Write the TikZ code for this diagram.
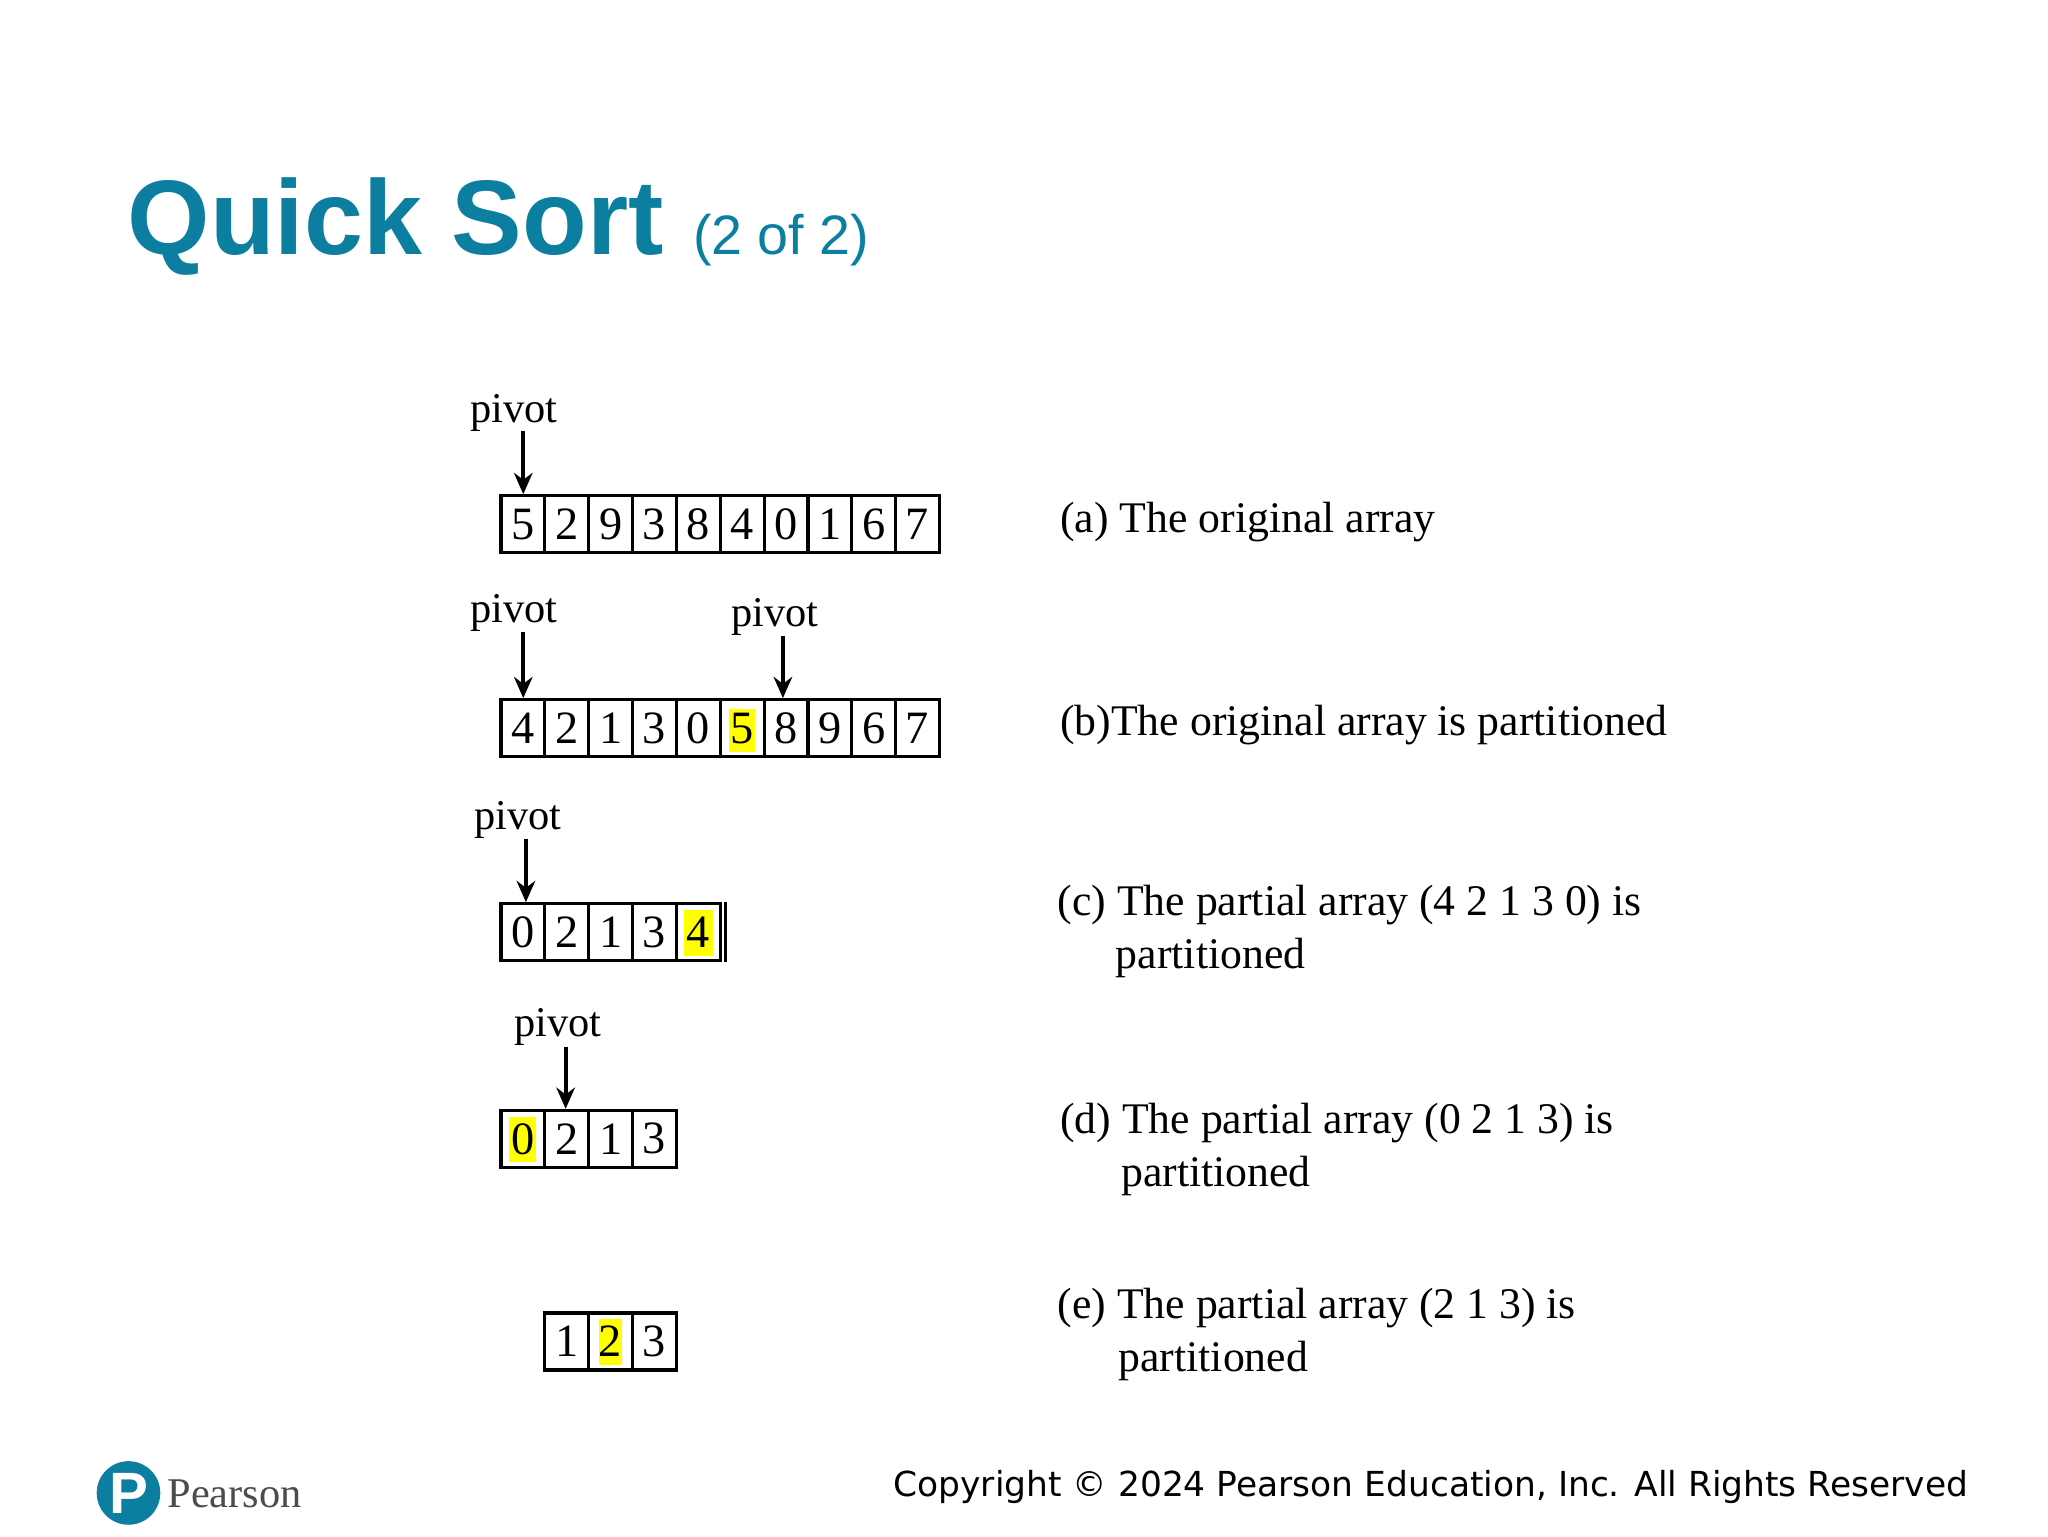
\documentclass[tikz,border=0pt]{standalone}
\usepackage{fontspec}
\usetikzlibrary{calc,backgrounds,arrows.meta}
\setmainfont{Liberation Serif}
\newfontfamily\titlefont{Liberation Sans}
\newfontfamily\copyfont{DejaVu Sans}
\definecolor{teal1}{RGB}{12,127,160}
\definecolor{hl}{RGB}{255,255,0}
\begin{document}
\begin{tikzpicture}[x=0.5pt,y=-0.5pt,
  cell/.style={draw,line width=1.2pt,minimum width=16.55pt,minimum height=21.5pt,inner sep=0pt,anchor=north west,font=\fontsize{17.5}{17.5}\selectfont},
  lbl/.style={font=\fontsize{16}{16}\selectfont,inner sep=0pt},
  captxt/.style={font=\fontsize{16.5}{20}\selectfont,inner sep=0pt,anchor=west,align=left},
  arr/.style={-{Stealth[length=8pt,width=7pt]},line width=1.4pt}]
\useasboundingbox (0,0) rectangle (1546,1160);
\begin{scope}[on background layer]
\fill[white] (0,0) rectangle (1546,1160);
\end{scope}
\node[anchor=base west,inner sep=0pt,text=teal1] (title) at (96,192) {\titlefont\fontsize{40}{40}\selectfont\bfseries Quick Sort \fontsize{21}{21}\selectfont\mdseries(2 of 2)};
\newcommand\myrow[4]{%
  \foreach \v [count=\i] in {#4} {
    \node[cell] (#1\i) at ({#2+(\i-1)*33.1},#3) {\v};
  }}
\myrow{a}{377}{373}{5,2,9,3,8,4,0,1,6,7}
\myrow{b}{377}{527}{4,2,1,3,0,5,8,9,6,7}
\myrow{c}{377}{681}{0,2,1,3,4}
\myrow{d}{377}{837}{0,2,1,3}
\myrow{e}{410}{990}{1,2,3}
\begin{scope}[on background layer]
\fill[hl] ($(b6.north west)+(8,8)$) rectangle ($(b6.south east)+(-8,-5)$);
\fill[hl] ($(c5.north west)+(7,6)$) rectangle ($(c5.south east)+(-7,-5)$);
\fill[hl] ($(d1.north west)+(7,6)$) rectangle ($(d1.south east)+(-8,-5)$);
\fill[hl] ($(e2.north west)+(9,6)$) rectangle ($(e2.south east)+(-9,-5)$);
\end{scope}
\draw[line width=1.2pt] ($(c5.north east)+(3,0)$) -- ($(c5.south east)+(3,0)$);
\node[lbl] (pa) at (388,312) {pivot};
\coordinate (pat) at (395,325);
\draw[arr] (pat) -- (a1.north -| pat);
\node[lbl] (pb) at (388,463) {pivot};
\coordinate (pbt) at (395,477);
\draw[arr] (pbt) -- (b1.north -| pbt);
\node[lbl] (pb2) at (585,466) {pivot};
\coordinate (pb2t) at (591,480);
\draw[arr] (pb2t) -- (b7.north -| pb2t);
\node[lbl] (pc) at (391,619) {pivot};
\coordinate (pct) at (397,633);
\draw[arr] (pct) -- (c1.north -| pct);
\node[lbl] (pd) at (421,775) {pivot};
\coordinate (pdt) at (427,790);
\draw[arr] (pdt) -- (d2.north -| pdt);
\node[captxt] (ca) at (800,394) {(a) The original array};
\node[captxt] (cb) at (800,547) {(b)The original array is partitioned};
\node[captxt,anchor=north west] (cc) at (798,668) {(c) The partial array (4 2 1 3 0) is\\\hspace*{22pt}partitioned};
\node[captxt,anchor=north west] (cd) at (800,832) {(d) The partial array (0 2 1 3) is\\\hspace*{23pt}partitioned};
\node[captxt,anchor=north west] (ce) at (798,972) {(e) The partial array (2 1 3) is\\\hspace*{23pt}partitioned};
\node[anchor=base east,inner sep=0pt] (copy) at (1486,1130) {\copyfont\fontsize{13}{13}\selectfont Copyright © 2024 Pearson Education, Inc. All Rights Reserved};
\fill[teal1] (97,1127) circle (24);
\node[text=white,font=\titlefont\fontsize{22}{22}\selectfont\bfseries] (plogo) at (97,1127) {P};
\node[anchor=west,inner sep=0pt,text=black!70] (pearson) at (126,1128) {\fontsize{16}{16}\selectfont Pearson};
\end{tikzpicture}
\end{document}
